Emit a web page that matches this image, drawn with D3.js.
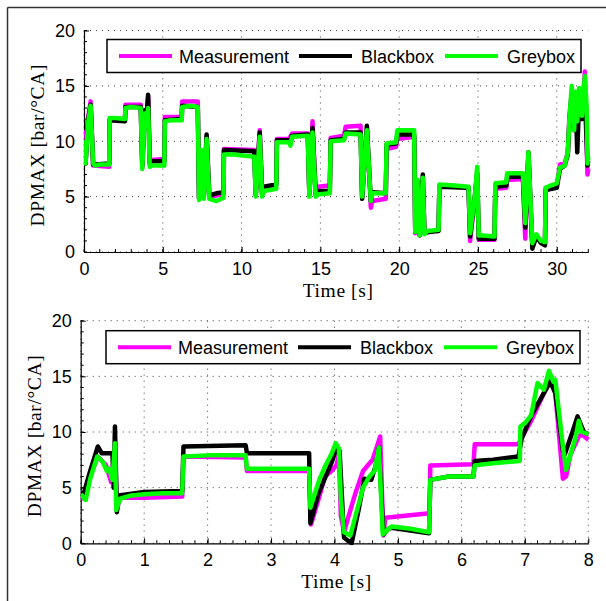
<!DOCTYPE html>
<html>
<head>
<meta charset="utf-8">
<script src="https://cdnjs.cloudflare.com/ajax/libs/d3/7.8.5/d3.min.js"></script>
<style>
  body { margin: 0; background: #fff; }
  svg { display: block; }
  .tick text { font-family: "Liberation Sans", Arial, sans-serif; font-size: 18px; fill: #000; }
  .axTitle { font-family: "Liberation Serif", "Times New Roman", serif; font-size: 19.5px; fill: #000; letter-spacing: 0.6px; }
  .legText { font-family: "Liberation Sans", Arial, sans-serif; font-size: 18px; fill: #000; }
</style>
</head>
<body>
<script>
// series names + colours
const seriesNames = ["Measurement", "Blackbox", "Greybox"];
const seriesColors = ["#ff00ff", "#000000", "#00ff00"];

const yTicks = [0, 5, 10, 15, 20];
const topXTicks = [0, 5, 10, 15, 20, 25, 30];
const bottomXTicks = [0, 1, 2, 3, 4, 5, 6, 7, 8];

// top panel, [time s, DPMAX]
const topMeasurement = [[0,11.0],[0.1,8.0],[0.25,12.0],[0.42,13.6],[0.58,7.8],[1.6,7.7],[1.63,12.0],[2.6,12.0],[2.63,13.3],[3.6,13.3],[3.7,7.6],[3.85,12.8],[3.95,12.0],[4.07,14.0],[4.17,8.0],[4.3,8.3],[5.1,8.4],[5.13,12.2],[6.2,12.2],[6.23,13.6],[7.22,13.6],[7.3,4.8],[7.45,9.0],[7.6,4.9],[7.78,10.4],[7.95,5.0],[8.85,5.2],[8.88,9.3],[10.8,9.2],[10.9,5.1],[11.15,11.0],[11.3,5.2],[11.4,5.8],[12.2,6.0],[12.24,10.2],[13.0,10.2],[13.2,10.7],[14.2,10.7],[14.3,5.2],[14.5,11.8],[14.7,5.3],[14.8,5.9],[15.6,6.0],[15.65,10.3],[16.5,10.5],[16.6,11.3],[17.55,11.4],[17.65,5.0],[17.95,11.1],[18.2,4.0],[18.3,4.6],[19.15,4.8],[19.2,9.3],[19.8,9.5],[19.88,10.2],[20.95,10.4],[21.02,1.7],[21.15,6.3],[21.3,1.5],[21.5,6.5],[21.6,1.7],[22.5,2.0],[22.55,6.0],[24.4,5.8],[24.5,1.0],[24.8,4.8],[24.95,7.0],[25.05,1.1],[26.05,1.1],[26.1,5.7],[26.8,5.8],[26.85,6.5],[27.85,6.6],[28.0,1.2],[28.2,8.8],[28.45,0.6],[28.7,1.5],[29.0,0.9],[29.25,0.8],[29.3,5.8],[30.0,6.0],[30.2,7.9],[30.5,8.0],[30.7,9.0],[30.8,12.2],[30.95,14.5],[31.1,11.2],[31.2,14.0],[31.3,10.5],[31.42,14.5],[31.6,12.5],[31.78,16.3],[31.95,7.0],[32.0,7.5]];
const topBlackbox = [[0,9.5],[0.1,8.0],[0.25,11.8],[0.42,13.3],[0.58,7.9],[0.7,7.9],[1.6,8.0],[1.63,11.9],[2.6,11.8],[2.63,13.1],[3.6,13.1],[3.7,7.8],[3.85,12.8],[3.95,12.0],[4.07,14.2],[4.17,8.0],[4.3,8.2],[5.1,8.2],[5.13,11.9],[6.2,12.0],[6.23,13.2],[7.22,13.1],[7.3,4.9],[7.45,9.0],[7.6,5.0],[7.78,10.6],[7.95,5.1],[8.4,5.3],[8.85,5.4],[8.88,9.2],[10.8,9.1],[10.9,5.2],[11.15,10.8],[11.3,5.3],[11.4,5.9],[12.2,6.1],[12.24,10.1],[13.0,10.1],[13.1,9.8],[13.2,10.5],[14.2,10.6],[14.3,5.2],[14.5,11.2],[14.7,5.2],[14.8,5.5],[15.6,5.5],[15.65,10.1],[16.5,10.2],[16.6,10.8],[17.55,10.8],[17.65,4.8],[17.95,11.4],[18.2,4.6],[18.3,5.4],[19.15,5.3],[19.2,9.7],[19.8,9.8],[19.88,10.6],[20.95,10.6],[21.02,1.8],[21.15,6.5],[21.3,1.5],[21.5,7.0],[21.6,1.7],[21.8,1.8],[22.5,1.9],[22.55,5.9],[24.4,5.8],[24.5,1.4],[24.8,5.0],[24.95,7.2],[25.05,1.2],[26.05,1.2],[26.1,5.9],[26.8,6.0],[26.85,6.8],[27.85,6.8],[28.0,2.2],[28.2,9.0],[28.45,0.3],[28.7,1.4],[29.0,0.8],[29.25,0.6],[29.3,5.6],[30.0,5.8],[30.2,7.5],[30.5,7.8],[30.7,8.8],[30.8,11.8],[30.95,14.2],[31.1,11.0],[31.2,13.8],[31.3,9.0],[31.42,14.0],[31.6,12.0],[31.78,14.3],[31.95,7.8],[32.0,8.2]];
const topGreybox = [[0,10.1],[0.1,8.0],[0.25,11.5],[0.42,13.2],[0.58,8.0],[0.7,7.8],[1.0,7.9],[1.6,7.9],[1.63,12.1],[2.0,12.1],[2.6,12.0],[2.63,13.0],[3.0,13.1],[3.6,13.0],[3.7,7.5],[3.85,12.5],[3.95,11.8],[4.07,13.0],[4.17,7.7],[4.3,7.8],[5.1,7.8],[5.13,11.8],[5.5,11.9],[6.2,11.9],[6.23,13.1],[6.8,13.2],[7.22,13.1],[7.3,4.7],[7.45,9.2],[7.6,4.8],[7.78,10.2],[7.95,4.8],[8.4,4.6],[8.85,4.9],[8.88,8.8],[9.5,8.8],[10.8,8.6],[10.9,5.0],[11.15,10.4],[11.3,5.0],[11.4,5.5],[12.2,5.7],[12.24,9.9],[13.0,9.9],[13.1,9.6],[13.2,10.4],[14.2,10.5],[14.3,5.0],[14.5,10.8],[14.7,5.0],[14.8,5.2],[15.6,5.3],[15.65,10.0],[16.5,10.1],[16.6,10.7],[17.55,10.6],[17.65,5.0],[17.95,11.0],[18.2,4.6],[18.3,5.3],[19.15,5.3],[19.2,9.8],[19.8,9.9],[19.88,11.0],[20.5,11.0],[20.95,11.0],[21.02,1.8],[21.15,6.5],[21.3,1.5],[21.5,6.7],[21.6,1.6],[21.8,1.9],[22.5,2.0],[22.55,6.1],[23.5,6.0],[24.4,5.9],[24.5,1.7],[24.8,5.0],[24.95,7.7],[25.05,1.5],[25.3,1.5],[26.05,1.4],[26.1,6.2],[26.8,6.3],[26.85,7.1],[27.85,7.1],[28.0,2.6],[28.2,9.0],[28.45,0.8],[28.7,1.6],[29.0,1.0],[29.25,0.9],[29.3,5.8],[29.6,6.0],[30.0,6.2],[30.2,7.6],[30.5,7.8],[30.7,9.0],[30.8,12.0],[30.95,15.0],[31.1,11.0],[31.2,14.5],[31.3,11.8],[31.42,14.8],[31.6,12.3],[31.78,15.9],[31.9,13.0],[31.95,8.0],[32.0,8.6]];

// bottom panel
const bottomMeasurement = [[0,4.2],[0.05,4.0],[0.15,6.0],[0.27,7.8],[0.4,7.0],[0.48,5.5],[0.54,8.5],[0.57,3.0],[0.62,4.1],[1.0,4.1],[1.6,4.2],[1.62,7.8],[2.6,7.7],[2.62,6.5],[3.6,6.5],[3.63,1.7],[3.75,4.0],[3.85,6.0],[3.95,6.5],[4.03,7.0],[4.07,8.0],[4.1,2.5],[4.15,1.0],[4.22,2.4],[4.33,4.5],[4.45,6.5],[4.6,7.5],[4.72,9.6],[4.77,0.7],[4.8,2.3],[5.5,2.7],[5.51,7.0],[6.19,7.1],[6.21,8.9],[6.9,8.9],[6.95,9.5],[7.1,11.0],[7.3,13.5],[7.42,15.0],[7.48,13.5],[7.6,5.8],[7.65,6.0],[7.72,8.0],[7.85,9.6],[7.9,9.8],[8.0,9.3]];
const bottomBlackbox = [[0,4.5],[0.05,4.5],[0.15,6.5],[0.27,8.7],[0.33,8.1],[0.5,8.1],[0.52,5.0],[0.54,10.5],[0.57,2.8],[0.6,4.3],[1.0,4.6],[1.6,4.7],[1.62,8.7],[2.6,8.8],[2.62,8.1],[3.6,8.1],[3.62,1.8],[3.75,4.5],[3.95,7.2],[4.03,8.5],[4.08,8.3],[4.15,0.5],[4.27,0],[4.38,3.0],[4.47,5.8],[4.58,5.7],[4.65,7.0],[4.7,8.6],[4.77,0.8],[4.85,1.3],[4.9,1.4],[5.49,0.9],[5.51,5.7],[5.8,6.0],[6.19,6.0],[6.21,7.4],[6.5,7.5],[6.9,7.8],[6.95,9.4],[7.1,11.5],[7.3,13.5],[7.4,14.5],[7.48,13.5],[7.6,8.3],[7.63,8.0],[7.75,10.0],[7.83,11.4],[7.93,10.0],[8.0,9.8]];
const bottomGreybox = [[0,4.4],[0.08,3.9],[0.15,5.8],[0.26,7.8],[0.35,7.3],[0.41,6.5],[0.45,6.7],[0.5,5.7],[0.54,9.0],[0.56,3.0],[0.62,4.0],[0.8,4.3],[1.0,4.4],[1.3,4.5],[1.6,4.5],[1.62,7.8],[2.0,7.9],[2.6,7.9],[2.62,6.7],[3.6,6.7],[3.62,3.2],[3.76,5.7],[3.85,6.9],[3.95,8.0],[4.02,9.0],[4.07,8.5],[4.1,4.0],[4.15,1.0],[4.25,0.7],[4.37,3.3],[4.45,5.0],[4.55,6.0],[4.63,6.5],[4.7,8.6],[4.76,0.8],[4.85,1.3],[4.9,1.5],[5.2,1.3],[5.49,1.0],[5.51,5.7],[5.8,6.0],[6.19,6.0],[6.21,7.0],[6.5,7.2],[6.92,7.4],[6.93,10.5],[7.0,10.8],[7.1,11.5],[7.2,14.4],[7.3,13.8],[7.38,15.5],[7.45,14.5],[7.48,14.7],[7.6,8.7],[7.65,6.6],[7.72,8.0],[7.8,9.5],[7.85,11.0],[7.9,10.0],[8.0,9.8]];

const W = 606, H = 601;
const svg = d3.select("body").append("svg").attr("width", W).attr("height", H);

// outer frame (top + left only visible)
svg.append("line").attr("x1", 7.5).attr("y1", 7.5).attr("x2", W).attr("y2", 7.5)
  .attr("stroke", "#333").attr("stroke-width", 1.5);
svg.append("line").attr("x1", 7.5).attr("y1", 7.5).attr("x2", 7.5).attr("y2", H)
  .attr("stroke", "#333").attr("stroke-width", 1.5);

function drawPanel(p) {
  let x = d3.scaleLinear().domain(p.xDomain).range([p.left, p.right]);
  let y = d3.scaleLinear().domain([0, 20]).range([p.bottom, p.top]);
  let g = svg.append("g");

  // dotted grid
  g.selectAll(".gx").data(p.xTicks).enter().append("line")
    .attr("x1", d => x(d)).attr("x2", d => x(d)).attr("y1", p.top).attr("y2", p.bottom)
    .attr("stroke", "#444").attr("stroke-width", 1).attr("stroke-dasharray", "1,5");
  g.selectAll(".gy").data(yTicks).enter().append("line")
    .attr("x1", p.left).attr("x2", p.right).attr("y1", d => y(d)).attr("y2", d => y(d))
    .attr("stroke", "#444").attr("stroke-width", 1).attr("stroke-dasharray", "1,5");

  // minor ticks
  let xMinor = d3.range(p.xDomain[0], p.xDomain[1] + 1e-9, p.xMinor);
  g.selectAll(".mx").data(xMinor).enter().append("line")
    .attr("x1", d => x(d)).attr("x2", d => x(d)).attr("y1", p.bottom).attr("y2", p.bottom - 3)
    .attr("stroke", "#000").attr("stroke-width", 1);
  g.selectAll(".my").data(d3.range(0, 20.001, 1)).enter().append("line")
    .attr("x1", p.left).attr("x2", p.left + 3).attr("y1", d => y(d)).attr("y2", d => y(d))
    .attr("stroke", "#000").attr("stroke-width", 1);

  // axes
  let xAxis = d3.axisBottom(x).tickValues(p.xTicks).tickSize(-5).tickSizeOuter(0).tickPadding(10);
  let yAxis = d3.axisLeft(y).tickValues(yTicks).tickSize(-5).tickSizeOuter(0).tickPadding(9);
  let gx = g.append("g").attr("transform", `translate(0,${p.bottom})`).call(xAxis);
  let gy = g.append("g").attr("transform", `translate(${p.left},0)`).call(yAxis);
  [gx, gy].forEach(a => {
    a.select(".domain").attr("stroke", "#000").attr("stroke-width", 1.2);
    a.selectAll(".tick line").attr("stroke", "#000");
  });
  gx.selectAll(".tick text").attr("dy", "0.71em");

  // clip + lines
  let clipId = "clip" + p.id;
  svg.append("clipPath").attr("id", clipId).append("rect")
    .attr("x", p.left).attr("y", p.top - 4).attr("width", p.right - p.left + 4).attr("height", p.bottom - p.top + 6);
  let line = d3.line().x(d => x(d[0])).y(d => y(d[1]));
  p.series.forEach((s, i) => {
    g.append("path").datum(s).attr("clip-path", `url(#${clipId})`)
      .attr("d", line).attr("fill", "none")
      .attr("stroke", seriesColors[i]).attr("stroke-width", 4.5)
      .attr("stroke-linejoin", "round");
  });

  // legend
  let lg = g.append("g");
  lg.append("rect").attr("x", p.legX).attr("y", p.legY).attr("width", 474).attr("height", 33)
    .attr("fill", "#fff").attr("stroke", "#000").attr("stroke-width", 1.5);
  let legOffsets = [[12, 72], [192, 254], [338, 400]];
  seriesNames.forEach((n, i) => {
    let ly = p.legY + 16.5;
    lg.append("line").attr("x1", p.legX + legOffsets[i][0]).attr("x2", p.legX + legOffsets[i][0] + 53)
      .attr("y1", ly).attr("y2", ly).attr("stroke", seriesColors[i]).attr("stroke-width", 4);
    lg.append("text").attr("class", "legText").attr("x", p.legX + legOffsets[i][1]).attr("y", ly + 6.5).text(n);
  });

  // axis titles
  g.append("text").attr("class", "axTitle").attr("text-anchor", "middle")
    .attr("x", (p.left + p.right) / 2 + 2).attr("y", p.bottom + 45).text("Time [s]");
  g.append("text").attr("class", "axTitle").attr("text-anchor", "middle")
    .attr("transform", `translate(${p.left - 40},${(p.top + p.bottom) / 2 + 4}) rotate(-90)`)
    .text("DPMAX [bar/°CA]");
}

drawPanel({ id: 1, left: 84, right: 588.3, top: 30.5, bottom: 252, xDomain: [0, 32], xTicks: topXTicks, xMinor: 1,
  legX: 107, legY: 39.5, series: [topMeasurement, topBlackbox, topGreybox] });
drawPanel({ id: 2, left: 80.7, right: 588.3, top: 320.7, bottom: 543.3, xDomain: [0, 8], xTicks: bottomXTicks, xMinor: 0.2,
  legX: 106, legY: 330.7, series: [bottomMeasurement, bottomBlackbox, bottomGreybox] });
</script>
</body>
</html>
